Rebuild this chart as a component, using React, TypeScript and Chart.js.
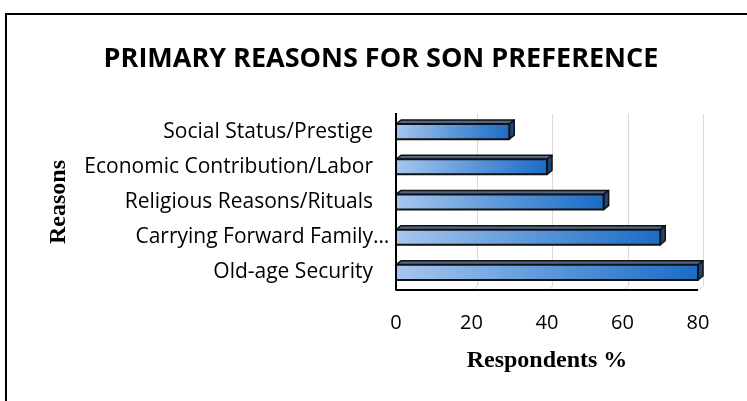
import React, { useEffect, useRef } from "react";
import { Chart, registerables } from "chart.js";

Chart.register(...registerables);

const categories = [
  "Social Status/Prestige",
  "Economic Contribution/Labor",
  "Religious Reasons/Rituals",
  "Carrying Forward Family…",
  "Old-age Security",
];
const respondents = [30, 40, 55, 70, 80];
const xTicks = [0, 20, 40, 60, 80];
const chartTitle = "PRIMARY REASONS FOR SON PREFERENCE";
const xTitle = "Respondents %";
const yTitle = "Reasons";

const DX = 5;
const DY = 4;
const LABEL_FONT = "21px 'Open Sans'";
const LABEL_GAP = 23;

const bar3d = {
  id: "bar3d",
  beforeDatasetsDraw(chart: any) {
    const { ctx, chartArea, scales } = chart;
    const x = scales.x;
    ctx.save();
    ctx.strokeStyle = "#d9d9d9";
    ctx.lineWidth = 1;
    xTicks.forEach((v) => {
      if (v === xTicks[0]) return;
      const px = Math.round(x.getPixelForValue(v)) + 0.5;
      ctx.beginPath();
      ctx.moveTo(px + DX, chartArea.top);
      ctx.lineTo(px + DX, chartArea.bottom - DY);
      ctx.lineTo(px, chartArea.bottom);
      ctx.stroke();
    });
    ctx.restore();
  },
  afterDatasetsDraw(chart: any) {
    const { ctx, chartArea, scales } = chart;
    const meta = chart.getDatasetMeta(0);
    ctx.save();
    ctx.lineJoin = "round";
    meta.data.forEach((el: any) => {
      const { x, y, base, height } = el.getProps(["x", "y", "base", "height"], true);
      const top = y - height / 2;
      const bottom = y + height / 2;
      const g = ctx.createLinearGradient(base, top, x, bottom);
      g.addColorStop(0, "#a7c7ee");
      g.addColorStop(0.5, "#5d98da");
      g.addColorStop(1, "#1b6cc6");
      ctx.beginPath();
      ctx.moveTo(base, top);
      ctx.lineTo(base + DX, top - DY);
      ctx.lineTo(x + DX, top - DY);
      ctx.lineTo(x, top);
      ctx.closePath();
      ctx.fillStyle = "#4f6688";
      ctx.fill();
      ctx.strokeStyle = "#111";
      ctx.lineWidth = 1.5;
      ctx.stroke();
      ctx.beginPath();
      ctx.moveTo(x, top);
      ctx.lineTo(x + DX, top - DY);
      ctx.lineTo(x + DX, bottom - DY);
      ctx.lineTo(x, bottom);
      ctx.closePath();
      ctx.fillStyle = "#1f4478";
      ctx.fill();
      ctx.stroke();
      ctx.beginPath();
      ctx.rect(base, top, x - base, height);
      ctx.fillStyle = g;
      ctx.fill();
      ctx.lineWidth = 2;
      ctx.stroke();
    });
    ctx.strokeStyle = "#000";
    ctx.lineWidth = 2;
    ctx.beginPath();
    ctx.moveTo(chartArea.left, chartArea.top - 1);
    ctx.lineTo(chartArea.left, chartArea.bottom);
    ctx.lineTo(chartArea.right, chartArea.bottom);
    ctx.stroke();

    // category labels (truncated labels keep their ellipsis outside the alignment edge)
    const yScale = scales.y;
    ctx.font = LABEL_FONT;
    ctx.fillStyle = "#000";
    ctx.textBaseline = "middle";
    const anchor = chartArea.left - LABEL_GAP;
    categories.forEach((lab, i) => {
      const py = yScale.getPixelForTick(i);
      if (lab.endsWith("…")) {
        ctx.textAlign = "right";
        ctx.fillText(lab.slice(0, -1), anchor, py);
        ctx.textAlign = "left";
        ctx.fillText("…", anchor, py);
      } else {
        ctx.textAlign = "right";
        ctx.fillText(lab, anchor, py);
      }
    });
    ctx.restore();
  },
};

export default function App() {
  const ref = useRef<HTMLCanvasElement | null>(null);
  useEffect(() => {
    if (!ref.current) return;
    const chart = new Chart(ref.current, {
      type: "bar",
      data: {
        labels: categories,
        datasets: [
          {
            label: xTitle,
            data: respondents,
            backgroundColor: "rgba(0,0,0,0)",
            borderWidth: 0,
            barPercentage: 0.43,
            categoryPercentage: 1,
          },
        ],
      },
      options: {
        indexAxis: "y",
        animation: false,
        responsive: false,
        devicePixelRatio: 1,
        layout: { padding: { left: 64, right: 49, top: 0, bottom: 0 } },
        plugins: {
          legend: { display: false },
          tooltip: { enabled: false },
          title: {
            display: true,
            text: chartTitle,
            color: "#000",
            font: { family: "'Open Sans'", size: 27, weight: "bold", lineHeight: 1.2 },
            padding: { top: 42.8, bottom: 38.8 },
          },
        },
        scales: {
          x: {
            type: "linear",
            min: xTicks[0],
            max: xTicks[xTicks.length - 1],
            grid: { display: false },
            border: { display: false },
            ticks: {
              stepSize: xTicks[1] - xTicks[0],
              color: "#000",
              padding: 13,
              font: { family: "'Open Sans'", size: 20 },
            },
            title: {
              display: true,
              text: xTitle,
              color: "#000",
              font: { family: "'Liberation Serif'", size: 24, weight: "bold", lineHeight: 1.2 },
              padding: { top: 0, bottom: 25.6 },
            },
            afterFit: (s: any) => {
              s.height = 111;
            },
          },
          y: {
            type: "category",
            grid: { display: false },
            border: { display: false },
            ticks: { display: false, autoSkip: false },
            title: {
              display: true,
              text: yTitle,
              color: "#000",
              font: { family: "'Liberation Serif'", size: 24, weight: "bold", lineHeight: 1.2 },
              padding: { top: -19.4, bottom: 0 },
            },
            afterFit: (s: any) => {
              s.width = 332;
            },
          },
        },
      },
      plugins: [bar3d],
    });
    return () => chart.destroy();
  }, []);

  return (
    <div style={{ position: "fixed", left: 0, top: 0, width: 747, height: 401, overflow: "hidden", background: "#fff" }}>
      <div
        style={{
          position: "absolute",
          left: 5,
          top: 13,
          width: 900,
          height: 600,
          border: "2px solid #000",
          boxSizing: "border-box",
        }}
      />
      <canvas ref={ref} width={747} height={401} style={{ position: "absolute", left: 0, top: 0, width: 747, height: 401 }} />
    </div>
  );
}
